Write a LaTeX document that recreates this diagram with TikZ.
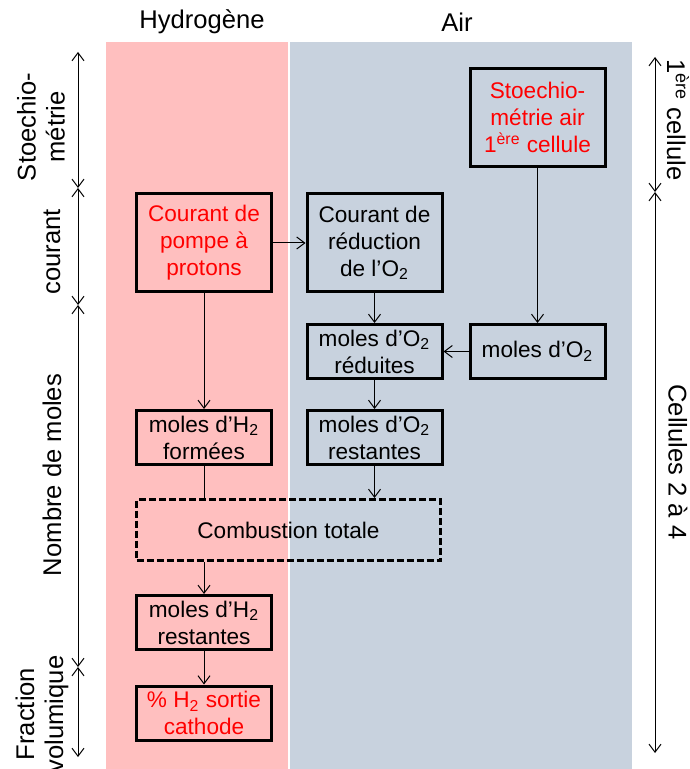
\documentclass[tikz,border=0pt]{standalone}
\usepackage{fontspec}
\setmainfont{Liberation Sans}
\usepackage{tikz}
\usetikzlibrary{arrows.meta}
\tikzset{
  flowarrow/.style={-{Straight Barb[length=4pt,width=6pt]}, line width=0.5pt},
  flowline/.style={line width=0.5pt},
  spanarrow/.style={{Straight Barb[length=4pt,width=6pt]}-{Straight Barb[length=4pt,width=6pt]}, line width=0.5pt}
}
\definecolor{HydroPink}{HTML}{FFBFBF}
\definecolor{AirGrey}{HTML}{C8D2DE}
\definecolor{InputRed}{HTML}{FF0000}

\begin{document}
\begin{tikzpicture}[
  x=0.5pt, y=-0.5pt,
  font=\fontsize{11.3}{13.5}\selectfont,
  box/.style={draw, line width=1.5pt, align=center, minimum width=67.5pt, inner sep=1pt},
  tallbox/.style={box, minimum height=49pt},
  lowbox/.style={box, minimum height=27pt},
  inputbox/.style={text=InputRed},
  sidelabel/.style={align=center, font=\fontsize{12.8}{14.5}\selectfont}
]
\useasboundingbox (0,0) rectangle (689,769);
\fill[HydroPink] (106,42) rectangle (288,769);
\fill[AirGrey] (290,42) rectangle (632,769);
\node[sidelabel] at (202,22) (hydro) {Hydrogène};
\node[sidelabel] at (457,22) (air) {Air};

\node[tallbox, inputbox] at (537.5,117.5) (stoech) {Stoechio-\\métrie air\\1\textsuperscript{ère} cellule};
\node[tallbox, inputbox] at (204,243) (pompe) {Courant de\\pompe à\\protons};
\node[tallbox] at (374.5,243) (reduc) {Courant de\\réduction\\de l’O\textsubscript{2}};
\node[lowbox] at (374.5,351.5) (redO2) {moles d’O\textsubscript{2}\\réduites};
\node[lowbox] at (537.5,351.5) (molO2) {moles d’O\textsubscript{2}};
\node[lowbox] at (374.5,437.5) (restO2) {moles d’O\textsubscript{2}\\restantes};
\node[lowbox] at (204,437.5) (formH2) {moles d’H\textsubscript{2}\\formées};
\node[box, dashed, dash pattern=on 3.5pt off 1.5pt, minimum width=152pt, minimum height=30.5pt] at (288.5,530) (comb) {Combustion totale};
\node[lowbox] at (204,622.5) (restH2) {moles d’H\textsubscript{2}\\restantes};
\node[lowbox, inputbox] at (204,713) (pctH2) {\% H\textsubscript{2} sortie\\cathode};

\draw[flowarrow] (pompe.east) -- (reduc.west);
\draw[flowarrow] (pompe.south) -- (formH2.north);
\draw[flowarrow] (reduc.south) -- (redO2.north);
\draw[flowarrow] (stoech.south) -- (molO2.north);
\draw[flowarrow] (molO2.west) -- (redO2.east);
\draw[flowarrow] (redO2.south) -- (restO2.north);
\draw[flowline] (formH2.south) -- (formH2.south |- comb.north);
\draw[flowarrow] (restO2.south) -- (restO2.south |- comb.north);
\draw[flowarrow] (formH2.south |- comb.south) -- (restH2.north);
\draw[flowarrow] (restH2.south) -- (pctH2.north);

\coordinate (l0) at (78,52);
\coordinate (l1) at (78,188);
\coordinate (l2) at (78,305);
\coordinate (l3) at (78,667);
\coordinate (l4) at (78,757);
\draw[spanarrow] (l0) -- (l1);
\draw[spanarrow] (l1) -- (l2);
\draw[spanarrow] (l2) -- (l3);
\draw[spanarrow] (l3) -- (l4);
\node[sidelabel, rotate=90] at (41,127) (stoLab) {Stoechio-\\métrie};
\node[sidelabel, rotate=90] at (52,252) (couLab) {courant};
\node[sidelabel, rotate=90] at (52,475) (molLab) {Nombre de moles};
\node[sidelabel, rotate=90] at (42,714) (fraLab) {Fraction\\volumique};

\coordinate (r0) at (655,57);
\coordinate (r1) at (655,192);
\coordinate (r2) at (655,753);
\draw[spanarrow] (r0) -- (r1);
\draw[spanarrow] (r1) -- (r2);
\node[sidelabel, rotate=-90] at (678,120) (firstLab) {1\textsuperscript{ère} cellule};
\node[sidelabel, rotate=-90] at (678,462) (nextLab) {Cellules 2 à 4};
\end{tikzpicture}
\end{document}
